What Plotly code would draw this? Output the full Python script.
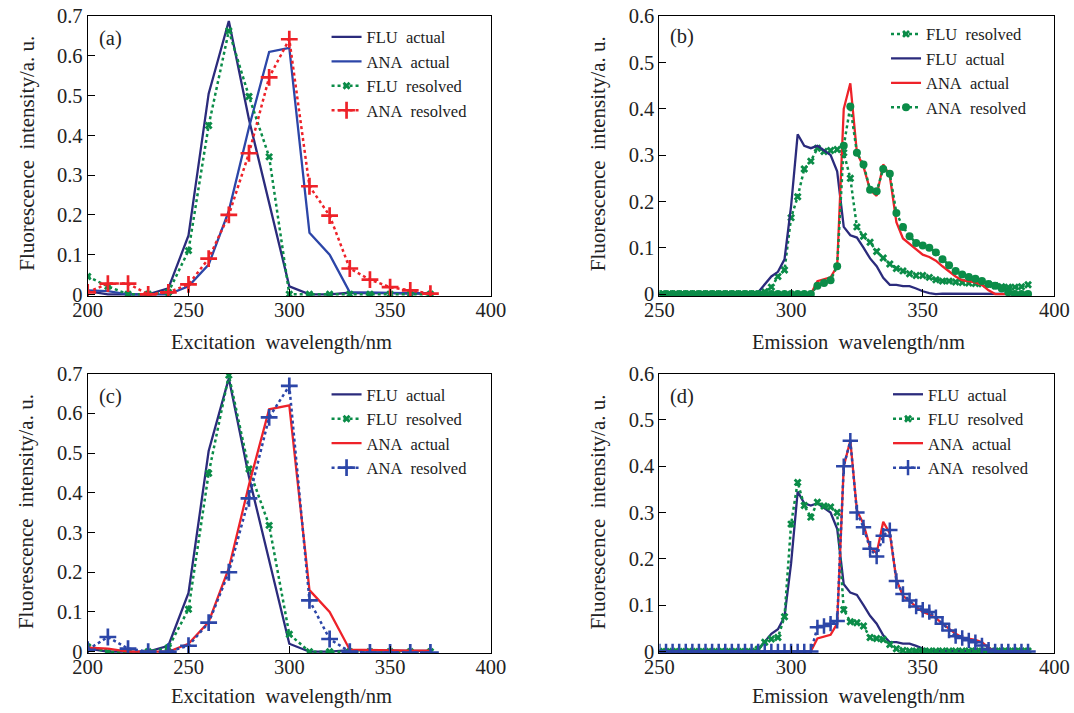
import numpy as np
import plotly.graph_objects as go

# ---------------- excitation spectra (panels a, c) ----------------
ex_wl = [200, 210, 220, 230, 240, 250, 260, 270, 280, 290,
         300, 310, 320, 330, 340, 350, 360, 370]

flu_actual_ex = [0.008, 0.0, 0.0, 0.0, 0.015, 0.148, 0.505, 0.688, 0.44, 0.23,
                 0.02, 0.0, 0.0, 0.004, 0.004, 0.003, 0.002, 0.002]
ana_actual_ex = [0.01, 0.008, 0.0, 0.0, 0.0, 0.02, 0.075, 0.21, 0.42, 0.61,
                 0.62, 0.155, 0.10, 0.005, 0.004, 0.003, 0.003, 0.003]
flu_resolved_a = [0.045, 0.02, 0.0, 0.0, 0.005, 0.11, 0.425, 0.663, 0.498, 0.346,
                  0.0, 0.0, 0.0, 0.0, 0.0, 0.0, 0.0, 0.0]
ana_resolved_a = [0.005, 0.027, 0.027, 0.0, 0.005, 0.025, 0.09, 0.2, 0.355, 0.546,
                  0.642, 0.272, 0.198, 0.065, 0.037, 0.018, 0.01, 0.002]
flu_resolved_c = [0.012, 0.0, -0.003, 0.0, 0.01, 0.107, 0.449, 0.696, 0.46, 0.318,
                  0.044, 0.0, 0.0, 0.0, 0.0, 0.0, 0.0, 0.0]
ana_resolved_c = [0.005, 0.037, 0.008, 0.0, 0.0, 0.015, 0.073, 0.2, 0.386, 0.59,
                  0.669, 0.129, 0.032, 0.0, -0.002, -0.002, -0.002, -0.002]

# ---------------- emission spectra (panels b, d) ----------------
em_wl = np.arange(250, 392.5, 2.5)   # 250 ... 390 nm

flu_actual_em = [
    0.002, 0.002, 0.002, 0.002, 0.002, 0.002, 0.002, 0.002, 0.002, 0.002,
    0.002, 0.002, 0.002, 0.003, 0.003, 0.004, 0.022, 0.038, 0.048, 0.075,
    0.190, 0.345, 0.320, 0.315, 0.320, 0.310, 0.300, 0.265, 0.145, 0.127,
    0.122, 0.100, 0.077, 0.060, 0.035, 0.020, 0.020, 0.017, 0.017, 0.012,
    0.006, 0.002, 0.000, 0.001, 0.001, 0.001, 0.001, 0.001, 0.000, 0.000,
    0.000, 0.000, 0.000, 0.000, 0.000, 0.000, 0.000]
ana_actual_em = [
    0.0, 0.0, 0.0, 0.0, 0.0, 0.0, 0.0, 0.0, 0.0, 0.0,
    0.0, 0.0, 0.0, 0.0, 0.0, 0.0, 0.0, 0.0, 0.0, 0.0,
    0.0, 0.0, 0.0, 0.0, 0.028, 0.032, 0.036, 0.060, 0.400, 0.455,
    0.305, 0.275, 0.225, 0.212, 0.280, 0.255, 0.155, 0.120, 0.108, 0.095,
    0.085, 0.080, 0.072, 0.060, 0.048, 0.038, 0.030, 0.027, 0.025, 0.020,
    0.008, 0.0, 0.0, 0.0, 0.0, 0.0, 0.0]
flu_resolved_b = [
    0.0, 0.0, 0.0, 0.0, 0.0, 0.0, 0.0, 0.0, 0.0, 0.0,
    0.0, 0.0, 0.0, 0.0, 0.0, 0.0, 0.005, 0.015, 0.038, 0.052,
    0.165, 0.210, 0.270, 0.287, 0.315, 0.308, 0.310, 0.312, 0.305, 0.250,
    0.145, 0.125, 0.112, 0.092, 0.078, 0.065, 0.055, 0.050, 0.044, 0.040,
    0.040, 0.036, 0.031, 0.028, 0.028, 0.026, 0.025, 0.024, 0.023, 0.022,
    0.021, 0.018, 0.016, 0.015, 0.015, 0.016, 0.020]
ana_resolved_b = [
    0.0, 0.0, 0.0, 0.0, 0.0, 0.0, 0.0, 0.0, 0.0, 0.0,
    0.0, 0.0, 0.0, 0.0, 0.0, 0.0, 0.0, 0.0, 0.0, 0.0,
    0.0, 0.0, 0.0, 0.0, 0.018, 0.024, 0.030, 0.060, 0.320, 0.405,
    0.305, 0.280, 0.225, 0.222, 0.270, 0.260, 0.175, 0.145, 0.125, 0.110,
    0.105, 0.100, 0.090, 0.075, 0.062, 0.050, 0.042, 0.037, 0.033, 0.028,
    0.022, 0.018, 0.012, 0.004, 0.0, 0.0, 0.0]
flu_resolved_d = [
    0.0, 0.0, 0.0, 0.0, 0.0, 0.0, 0.0, 0.0, 0.0, 0.0,
    0.0, 0.0, 0.0, 0.0, 0.0, 0.005, 0.020, 0.027, 0.030, 0.075,
    0.275, 0.365, 0.315, 0.290, 0.322, 0.314, 0.312, 0.300, 0.090, 0.064,
    0.062, 0.055, 0.030, 0.028, 0.026, 0.015, 0.006, 0.002, 0.001, 0.001,
    0.001, 0.001, 0.001, 0.001, 0.001, 0.001, 0.001, 0.001, 0.001, 0.001,
    0.001, 0.001, 0.001, 0.001, 0.001, 0.001, 0.001]
ana_resolved_d = [
    0.0, 0.0, 0.0, 0.0, 0.0, 0.0, 0.0, 0.0, 0.0, 0.0,
    0.0, 0.0, 0.0, 0.0, 0.0, 0.0, 0.0, 0.0, 0.0, 0.0,
    0.0, 0.0, 0.0, 0.0, 0.052, 0.055, 0.060, 0.066, 0.400, 0.455,
    0.300, 0.268, 0.222, 0.205, 0.250, 0.262, 0.152, 0.124, 0.110, 0.097,
    0.090, 0.085, 0.074, 0.060, 0.045, 0.033, 0.029, 0.024, 0.020, 0.013,
    0.004, 0.0, 0.0, 0.0, 0.0, 0.0, 0.0]

ex_ticks = [200, 250, 300, 350, 400]
em_ticks = [250, 300, 350, 400]
ex_yticks = [0, 0.1, 0.2, 0.3, 0.4, 0.5, 0.6, 0.7]
em_yticks = [0, 0.1, 0.2, 0.3, 0.4, 0.5, 0.6]

NAVY = "#2b2b7c"
BLUE = "#2c46a8"
GREEN = "#0b8c48"
RED = "#ee2229"
FONT = "Liberation Serif"
NB = "\u00a0"

fig = go.Figure()


def solid(x, y, name, color, ax, leg):
    fig.add_trace(go.Scatter(
        x=x, y=y, name=name, mode="lines",
        line=dict(color=color, width=2.3),
        xaxis="x" + ax, yaxis="y" + ax, legend=leg))


def dotted(x, y, name, color, symbol, size, ax, leg, lw=0):
    marker = dict(symbol=symbol, size=size, color=color)
    if lw:
        marker["line"] = dict(color=color, width=lw)
    fig.add_trace(go.Scatter(
        x=x, y=y, name=name, mode="lines+markers",
        line=dict(color=color, width=2.5, dash="dot"),
        marker=marker, xaxis="x" + ax, yaxis="y" + ax, legend=leg))


# (a)
solid(ex_wl, flu_actual_ex, "FLU" + NB + NB + "actual", NAVY, "", "legend")
solid(ex_wl, ana_actual_ex, "ANA" + NB + NB + "actual", BLUE, "", "legend")
dotted(ex_wl, flu_resolved_a, "FLU" + NB + NB + "resolved", GREEN, "x", 7, "", "legend")
dotted(ex_wl, ana_resolved_a, "ANA" + NB + NB + "resolved", RED, "cross-thin-open", 12, "", "legend", 2.7)

# (b)
dotted(em_wl, flu_resolved_b, "FLU" + NB + NB + "resolved", GREEN, "x", 7, "2", "legend2")
solid(em_wl, flu_actual_em, "FLU" + NB + NB + "actual", NAVY, "2", "legend2")
solid(em_wl, ana_actual_em, "ANA" + NB + NB + "actual", RED, "2", "legend2")
dotted(em_wl, ana_resolved_b, "ANA" + NB + NB + "resolved", GREEN, "circle", 8, "2", "legend2")

# (c)
solid(ex_wl, flu_actual_ex, "FLU" + NB + NB + "actual", NAVY, "3", "legend3")
dotted(ex_wl, flu_resolved_c, "FLU" + NB + NB + "resolved", GREEN, "x", 7, "3", "legend3")
solid(ex_wl, ana_actual_ex, "ANA" + NB + NB + "actual", RED, "3", "legend3")
dotted(ex_wl, ana_resolved_c, "ANA" + NB + NB + "resolved", BLUE, "cross-thin-open", 12, "3", "legend3", 2.7)

# (d)
solid(em_wl, flu_actual_em, "FLU" + NB + NB + "actual", NAVY, "4", "legend4")
dotted(em_wl, flu_resolved_d, "FLU" + NB + NB + "resolved", GREEN, "x", 7, "4", "legend4")
solid(em_wl, ana_actual_em, "ANA" + NB + NB + "actual", RED, "4", "legend4")
dotted(em_wl, ana_resolved_d, "ANA" + NB + NB + "resolved", BLUE, "cross-thin-open", 11, "4", "legend4", 2.5)

# Layout positions are written in the pixel frame of the final picture and
# converted to figure pixels: the page is shown at a scale of SCALE and the
# figure sits inside the default 8 px body margin.
SCALE = 0.975
PAGE_MARGIN = 8
W, H = 1085, 715


def fx(p):
    return p / SCALE - PAGE_MARGIN


def px_x(p):
    return fx(p) / W


def px_y(p):
    return 1 - fx(p) / H


FS = 1 / SCALE
TICK_FONT = dict(family=FONT, size=20 * FS, color="#222")


def xaxis(dom, rng, ticks):
    return dict(domain=dom, range=rng, tickvals=ticks, ticks="inside", ticklen=7,
                tickcolor="black", showline=True, linecolor="black", linewidth=1,
                mirror=True, showgrid=False, zeroline=False, ticklabelstandoff=-5,
                tickfont=TICK_FONT)


def yaxis(dom, rng, ticks, anchor):
    return dict(domain=dom, range=rng, tickvals=ticks, ticks="inside", ticklen=7,
                tickcolor="black", showline=True, linecolor="black", linewidth=1,
                mirror=True, showgrid=False, zeroline=False, anchor=anchor,
                tickfont=TICK_FONT)


left_dom = [px_x(80.7), px_x(485)]
right_dom = [px_x(654), px_x(1050)]
top_dom = [px_y(294), px_y(13)]
bot_dom = [px_y(653), px_y(372)]

legend_common = dict(font=dict(family=FONT, size=16.5, color="#222"),
                     bgcolor="rgba(0,0,0,0)", borderwidth=0,
                     xanchor="left", yanchor="top", tracegroupgap=0)


def legend_at(text_left, first_row):
    # legend text starts 48 px right of the legend box, first row centre 20 px below its top
    return dict(x=(fx(text_left) - 48) / W, y=1 - (fx(first_row) - 20) / H)


fig.update_layout(
    width=W, height=H,
    margin=dict(l=0, r=0, t=0, b=0),
    paper_bgcolor="white", plot_bgcolor="white",
    xaxis=xaxis(left_dom, [200, 400], ex_ticks) | dict(anchor="y"),
    yaxis=yaxis(top_dom, [-0.004, 0.7], ex_yticks, "x"),
    xaxis2=xaxis(right_dom, [250, 400], em_ticks) | dict(anchor="y2"),
    yaxis2=yaxis(top_dom, [-0.004, 0.6], em_yticks, "x2"),
    xaxis3=xaxis(left_dom, [200, 400], ex_ticks) | dict(anchor="y3"),
    yaxis3=yaxis(bot_dom, [-0.004, 0.7], ex_yticks, "x3"),
    xaxis4=xaxis(right_dom, [250, 400], em_ticks) | dict(anchor="y4"),
    yaxis4=yaxis(bot_dom, [-0.004, 0.6], em_yticks, "x4"),
    legend=legend_common | legend_at(367, 36),
    legend2=legend_common | legend_at(928, 33),
    legend3=legend_common | legend_at(367, 395),
    legend4=legend_common | legend_at(930, 395),
)

ann = []
label_font = dict(family=FONT, size=20 * FS, color="#222")
for lab, px, py in [("(a)", 104, 35), ("(b)", 677, 33), ("(c)", 104, 395), ("(d)", 677, 395)]:
    ann.append(dict(text=lab, x=px_x(px), y=px_y(py), xref="paper", yref="paper",
                    showarrow=False, font=label_font, xanchor="center", yanchor="middle"))

xt_font = dict(family=FONT, size=20.5, color="#222")
yt_font = dict(family=FONT, size=21, color="#222")
ex_title = "Excitation" + NB + NB + "wavelength/nm"
em_title = "Emission" + NB + NB + "wavelength/nm"
y_title = "Fluorescence" + NB + NB + "intensity/a." + NB + "u."
for t, px, py in [(ex_title, 275, 341), (em_title, 854, 341),
                  (ex_title, 275, 696), (em_title, 854, 696)]:
    ann.append(dict(text=t, x=px_x(px), y=px_y(py), xref="paper", yref="paper",
                    showarrow=False, font=xt_font, xanchor="center", yanchor="middle"))
for px, py in [(19, 151), (592, 151), (19, 511), (592, 511)]:
    ann.append(dict(text=y_title, x=px_x(px), y=px_y(py), xref="paper", yref="paper",
                    showarrow=False, font=yt_font, textangle=-90,
                    xanchor="center", yanchor="middle"))
fig.update_layout(annotations=ann)

fig.write_html("out.html")
